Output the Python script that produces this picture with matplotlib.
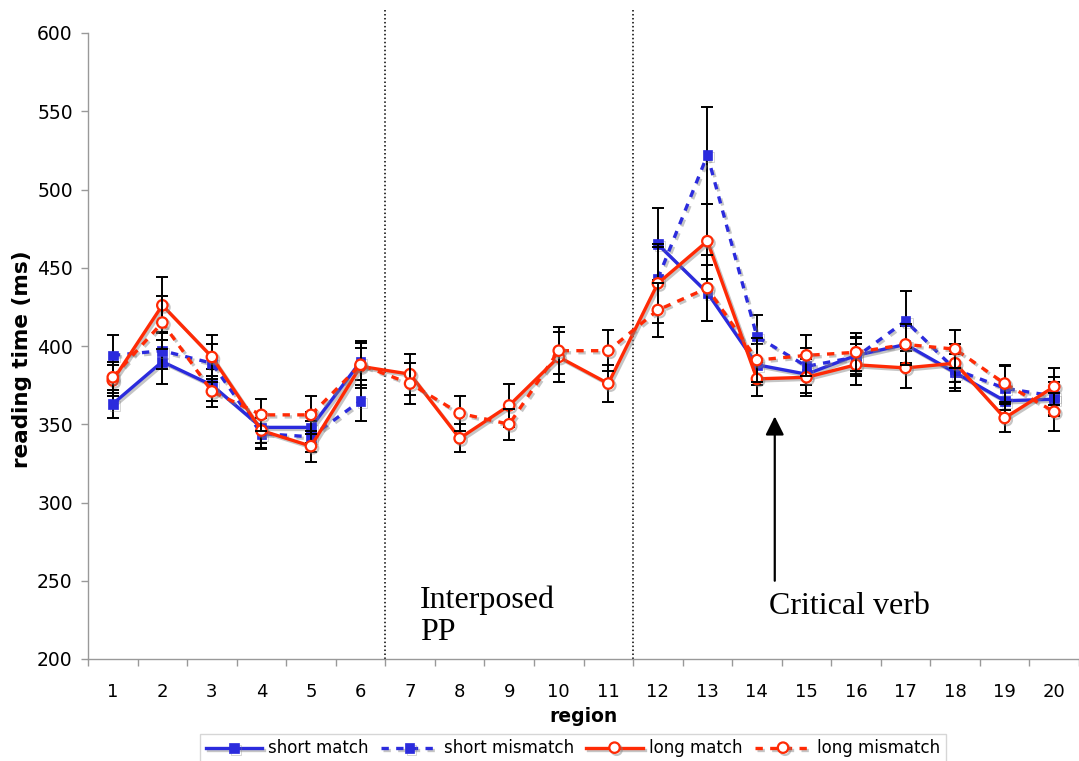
import numpy as np
import matplotlib
matplotlib.use("Agg")
import matplotlib.pyplot as plt
import matplotlib.patheffects as pe

# ---------------- data ----------------
regions = list(range(1, 21))
nan = np.nan
short_match = [363, 390, 375, 348, 348, 390, nan, nan, nan, nan, nan, 465, 434, 388, 382, 394, 401, 383, 365, 366]
short_match_err = [9, 14, 10, 10, 10, 12, nan, nan, nan, nan, nan, 23, 18, 13, 12, 12, 12, 12, 11, 11]
short_mismatch = [394, 397, 389, 344, 342, 365, nan, nan, nan, nan, nan, 443, 522, 406, 387, 393, 416, 385, 373, 368]
short_mismatch_err = [13, 12, 12, 10, 10, 13, nan, nan, nan, nan, nan, 20, 31, 14, 12, 12, 19, 12, 14, 12]
long_match = [378, 426, 393, 346, 336, 387, 382, 341, 362, 393, 376, 440, 467, 379, 380, 388, 386, 389, 354, 374]
long_match_err = [10, 18, 14, 11, 10, 12, 13, 9, 14, 16, 12, 25, 24, 11, 12, 13, 13, 12, 9, 12]
long_mismatch = [380, 415, 371, 356, 356, 388, 376, 357, 350, 397, 397, 423, 437, 391, 394, 396, 401, 398, 376, 358]
long_mismatch_err = [10, 17, 10, 10, 12, 15, 13, 11, 10, 15, 13, 17, 21, 14, 13, 12, 13, 12, 12, 12]

series_names = ["short match", "short mismatch", "long match", "long mismatch"]
y_ticks = [200, 250, 300, 350, 400, 450, 500, 550, 600]
dividers = [6.5, 11.5]
arrow_x, arrow_from, arrow_to = 14.36, 250, 355
label_pp = ("Interposed\nPP", 7.2, 247)
label_cv = ("Critical verb", 14.24, 243)

BLUE = "#2B2BDD"
RED = "#FF2A05"

fig = plt.figure(figsize=(10.79, 7.61), dpi=100)
ax = fig.add_axes([88 / 1079, 1 - 659 / 761, (1079 - 88) / 1079, (659 - 33) / 761])

shadow = [pe.SimpleLineShadow(offset=(1.5, -1.5), shadow_color="gray", alpha=0.45), pe.Normal()]

styles = [
    (short_match, short_match_err, BLUE, "-", "s", BLUE),
    (short_mismatch, short_mismatch_err, BLUE, (0, (2.2, 2.2)), "s", BLUE),
    (long_match, long_match_err, RED, "-", "o", "white"),
    (long_mismatch, long_mismatch_err, RED, (0, (2.2, 2.2)), "o", "white"),
]

handles = []
for i, (vals, err, col, ls, mk, mfc) in enumerate(styles):
    vals = np.array(vals, dtype=float)
    err = np.array(err, dtype=float)
    z = 3 + i * 2
    ax.errorbar(regions, vals, yerr=err, fmt="none", ecolor="black", elinewidth=1.4,
                capsize=4.5, capthick=1.4, zorder=z)
    ln, = ax.plot(regions, vals, color=col, linestyle=ls, linewidth=2.4, marker=mk,
                  markersize=7 if mk == "s" else 7.5, markerfacecolor=mfc,
                  markeredgecolor=col, markeredgewidth=1.6 if mk == "o" else 0.5,
                  zorder=z + 1, path_effects=shadow, label=series_names[i])
    handles.append(ln)

ax.set_xlim(0.5, 20.5)
ax.set_ylim(200, 600)
ax.set_yticks(y_ticks)
ax.set_xticks(regions)
ax.set_xticks(np.arange(0.5, 21, 1), minor=True)
ax.tick_params(axis="x", which="major", length=0, labelsize=13, pad=17)
ax.tick_params(axis="x", which="minor", length=5, color="#999999", width=1)
ax.tick_params(axis="y", which="major", length=5, color="#999999", width=1, labelsize=13.5, pad=6)
for s in ["top", "right"]:
    ax.spines[s].set_visible(False)
for s in ["left", "bottom"]:
    ax.spines[s].set_color("#999999")
    ax.spines[s].set_linewidth(1)

ax.set_xlabel("region", fontsize=13.5, fontweight="bold")
ax.xaxis.set_label_coords(0.5, (659 - 716) / 626, transform=ax.transAxes)
ax.xaxis.label.set_va("center")
ax.set_ylabel("reading time (ms)", fontsize=15.5, fontweight="bold")
ax.yaxis.set_label_coords((22 - 88) / 991, (659 - 359) / 626, transform=ax.transAxes)
ax.yaxis.label.set_va("center")

for d in dividers:
    ax.vlines(d, 200, 616, colors="black", linestyles=(0, (1, 1.6)), linewidth=1.1,
              clip_on=False, zorder=2)

ax.annotate("", xy=(arrow_x, arrow_to), xytext=(arrow_x, arrow_from),
            arrowprops=dict(arrowstyle="-|>", lw=1.6, color="black", mutation_scale=28,
                            shrinkA=0, shrinkB=0), zorder=12)

ax.text(label_pp[1], label_pp[2], label_pp[0], family="Liberation Serif", fontsize=23,
        va="top", ha="left", linespacing=1.15)
ax.text(label_cv[1], label_cv[2], label_cv[0], family="Liberation Serif", fontsize=23,
        va="top", ha="left")

leg = fig.legend(handles=handles, loc="lower center", bbox_to_anchor=(0.531, -0.014), ncol=4,
                 fontsize=12, frameon=True, fancybox=False, edgecolor="#cccccc",
                 handlelength=3.4, handletextpad=0.35, columnspacing=0.75, borderpad=0.35)
leg.get_frame().set_linewidth(1)

fig.savefig("out.png", dpi=100)
